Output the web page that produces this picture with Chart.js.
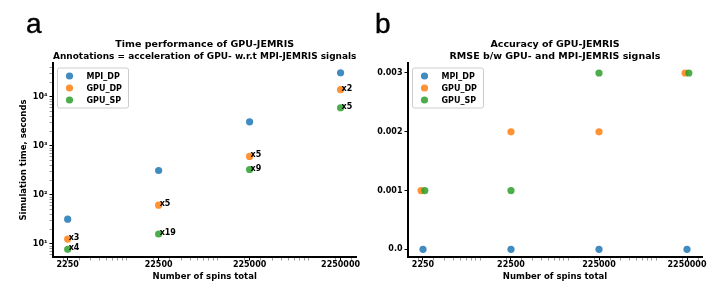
<!DOCTYPE html>
<html>
<head>
<meta charset="utf-8">
<script src="https://cdn.jsdelivr.net/npm/chart.js@4"></script>
<style>
    html, body { margin: 0; padding: 0; background: #fff; }
    #wrap { position: relative; width: 720px; height: 289px; overflow: hidden; }
    .panel { position: absolute; top: 0; width: 360px; height: 289px; }
    .letter { position: absolute; top: 9.5px; font-family: "Liberation Sans", Arial, sans-serif; font-size: 28px; line-height: 28px; color: #000; -webkit-text-stroke: 0.4px #000; }
</style>
</head>
<body>
<div id="wrap">
    <div class="panel" style="left:0"><canvas id="timeChart" width="360" height="289"></canvas></div>
    <div class="panel" style="left:360px"><canvas id="accChart" width="360" height="289"></canvas></div>
    <div class="letter" style="left:26px">a</div>
    <div class="letter" style="left:375px">b</div>
</div>
<script>
// number of spins (x axis)
const spins = [2250, 22500, 225000, 2250000];
const spinLabels = ['2250', '22500', '225000', '2250000'];

// simulation time, seconds
const timeMpiDp = [32, 315, 3100, 31000];
const timeGpuDp = [12.6, 62, 610, 14000];
const timeGpuSp = [7.8, 16, 330, 6000];
// acceleration annotations
const speedupDp = ['x3', 'x5', 'x5', 'x2'];
const speedupSp = ['x4', 'x19', 'x9', 'x5'];

// RMSE b/w GPU- and MPI-JEMRIS signals (slight x shift where points overlap)
const accDpX = [2140, 22500, 225000, 2140000];
const accSpX = [2360, 22500, 225000, 2360000];
const rmseMpiDp = [0, 0, 0, 0];
const rmseGpuDp = [0.001, 0.002, 0.002, 0.003];
const rmseGpuSp = [0.001, 0.001, 0.003, 0.003];
const rmseTicks = [0, 0.001, 0.002, 0.003];
const rmseTickLabels = ['0.0', '0.001', '0.002', '0.003'];

const seriesNames = ['MPI_DP', 'GPU_DP', 'GPU_SP'];
const colors = [
    'rgba(31, 119, 180, 0.85)',   // MPI_DP
    'rgba(255, 127, 14, 0.85)',   // GPU_DP
    'rgba(44, 160, 44, 0.85)'     // GPU_SP
];

const FONT = '"DejaVu Sans", sans-serif';
const sup = { 1: '¹', 2: '²', 3: '³', 4: '⁴' };

function pts(xs, ys) {
    return xs.map((x, i) => ({ x: x, y: ys[i] }));
}

function makeDataset(i, data) {
    return {
        label: seriesNames[i],
        data: data,
        backgroundColor: colors[i],
        borderWidth: 0,
        pointRadius: 3.6,
        pointHoverRadius: 3.6,
        order: 2 - i   // GPU_SP drawn on top
    };
}

// log axis ticks: labelled majors + unlabelled minors
function logTicks(scale, majors) {
    const ticks = [];
    const lo = Math.floor(Math.log10(scale.min));
    const hi = Math.ceil(Math.log10(scale.max));
    for (let e = lo; e <= hi; e++) {
        for (let m = 1; m <= 9; m++) {
            const v = m * Math.pow(10, e);
            if (v < scale.min || v > scale.max) continue;
            if (majors.includes(v)) continue;
            ticks.push({ value: v, major: false });
        }
    }
    majors.forEach(v => ticks.push({ value: v, major: true }));
    ticks.sort((a, b) => a.value - b.value);
    scale.ticks = ticks;
}

function xAxis() {
    return {
        type: 'logarithmic',
        min: 1552,
        max: 3360000,
        border: { display: true, color: '#000', width: 2 },
        grid: {
            drawOnChartArea: false,
            drawTicks: true,
            tickLength: 3.5,
            tickColor: ctx => ctx.tick && ctx.tick.major ? '#000' : '#555',
            tickWidth: ctx => ctx.tick && ctx.tick.major ? 1 : 0.6
        },
        afterBuildTicks: scale => logTicks(scale, spins),
        afterFit: scale => { scale.height = 32; },
        ticks: {
            autoSkip: false,
            maxRotation: 0,
            padding: 0,
            color: '#000',
            font: { family: FONT, size: 8, weight: 'bold' },
            callback: function(value, index, ticks) {
                const k = spins.indexOf(ticks[index].value);
                return k >= 0 ? spinLabels[k] : '';
            }
        },
        title: {
            display: true,
            text: 'Number of spins total',
            color: '#000',
            font: { family: FONT, size: 8.5, weight: 'bold' },
            padding: { top: 0, bottom: 7.4 }
        }
    };
}

function chartTitle(lines) {
    return {
        display: true,
        text: lines,
        fullSize: false,
        color: '#000',
        font: { family: FONT, size: 9.5, weight: 'bold', lineHeight: '12px' },
        padding: { top: 39, bottom: 0 }
    };
}

// legend box in the upper left corner of the plot area
const boxLegend = {
    id: 'boxLegend',
    afterDatasetsDraw(chart) {
        const ctx = chart.ctx;
        const area = chart.chartArea;
        const left = area.left + 4.5;
        const top = area.top + 5;
        ctx.save();
        ctx.fillStyle = 'rgba(255,255,255,0.85)';
        ctx.strokeStyle = '#cccccc';
        ctx.lineWidth = 1;
        ctx.beginPath();
        ctx.roundRect(left, top, 71, 40, 2);
        ctx.fill();
        ctx.stroke();
        ctx.font = 'bold 8px ' + FONT;
        ctx.textBaseline = 'middle';
        seriesNames.forEach((name, i) => {
            const y = top + 8 + i * 12;
            ctx.fillStyle = colors[i];
            ctx.beginPath();
            ctx.arc(left + 12, y, 3.6, 0, Math.PI * 2);
            ctx.fill();
            ctx.fillStyle = '#000';
            ctx.fillText(name, left + 29, y + 0.5);
        });
        ctx.restore();
    }
};

// speed-up annotations next to the GPU points
const speedupLabels = {
    id: 'speedupLabels',
    afterDatasetsDraw(chart) {
        const ctx = chart.ctx;
        ctx.save();
        ctx.font = 'bold 8px ' + FONT;
        ctx.fillStyle = '#000';
        ctx.textBaseline = 'alphabetic';
        [[1, speedupDp], [2, speedupSp]].forEach(([di, texts]) => {
            chart.getDatasetMeta(di).data.forEach((p, i) => {
                ctx.fillText(texts[i], p.x + 1, p.y + 1);
            });
        });
        ctx.restore();
    }
};

new Chart(document.getElementById('timeChart').getContext('2d'), {
    type: 'scatter',
    data: {
        datasets: [
            makeDataset(0, pts(spins, timeMpiDp)),
            makeDataset(1, pts(spins, timeGpuDp)),
            makeDataset(2, pts(spins, timeGpuSp))
        ]
    },
    options: {
        responsive: false,
        animation: false,
        layout: { padding: { left: 0, right: 3, top: 0, bottom: 0 } },
        plugins: {
            legend: { display: false },
            tooltip: { enabled: false },
            title: chartTitle(['Time performance of GPU-JEMRIS',
                'Annotations = acceleration of GPU- w.r.t MPI-JEMRIS signals'])
        },
        scales: {
            x: xAxis(),
            y: {
                type: 'logarithmic',
                min: 5.43,
                max: 49000,
                border: { display: true, color: '#000', width: 2 },
                grid: {
                    drawOnChartArea: false,
                    drawTicks: true,
                    tickLength: 3.5,
                    tickColor: ctx => ctx.tick && ctx.tick.major ? '#000' : '#555',
                    tickWidth: ctx => ctx.tick && ctx.tick.major ? 1 : 0.6
                },
                afterBuildTicks: scale => logTicks(scale, [10, 100, 1000, 10000]),
                afterFit: scale => { scale.width = 53; },
                ticks: {
                    autoSkip: false,
                    padding: 2,
                    color: '#000',
                    font: { family: FONT, size: 8, weight: 'bold' },
                    callback: function(value, index, ticks) {
                        if (!ticks[index].major) return '';
                        return '10' + sup[Math.round(Math.log10(ticks[index].value))];
                    }
                },
                title: {
                    display: true,
                    text: 'Simulation time, seconds',
                    color: '#000',
                    font: { family: FONT, size: 8.5, weight: 'bold' },
                    padding: { top: 18.4, bottom: 0 }
                }
            }
        }
    },
    plugins: [speedupLabels, boxLegend]
});

new Chart(document.getElementById('accChart').getContext('2d'), {
    type: 'scatter',
    data: {
        datasets: [
            makeDataset(0, pts(spins, rmseMpiDp)),
            makeDataset(1, pts(accDpX, rmseGpuDp)),
            makeDataset(2, pts(accSpX, rmseGpuSp))
        ]
    },
    options: {
        responsive: false,
        animation: false,
        layout: { padding: { left: 0, right: 18, top: 0, bottom: 0 } },
        plugins: {
            legend: { display: false },
            tooltip: { enabled: false },
            title: chartTitle(['Accuracy of GPU-JEMRIS',
                'RMSE b/w GPU- and MPI-JEMRIS signals'])
        },
        scales: {
            x: Object.assign(xAxis(), { min: 1520, max: 3330000 }),
            y: {
                type: 'linear',
                min: -0.00013,
                max: 0.00317,
                border: { display: true, color: '#000', width: 2 },
                grid: {
                    drawOnChartArea: false,
                    drawTicks: true,
                    tickLength: 3.5,
                    tickColor: '#000',
                    tickWidth: 1
                },
                afterBuildTicks: scale => {
                    scale.ticks = rmseTicks.map(v => ({ value: v }));
                },
                afterFit: scale => { scale.width = 48; },
                ticks: {
                    autoSkip: false,
                    padding: 2,
                    color: '#000',
                    font: { family: FONT, size: 8, weight: 'bold' },
                    callback: function(value, index) {
                        return rmseTickLabels[index];
                    }
                }
            }
        }
    },
    plugins: [boxLegend]
});
</script>
</body>
</html>
